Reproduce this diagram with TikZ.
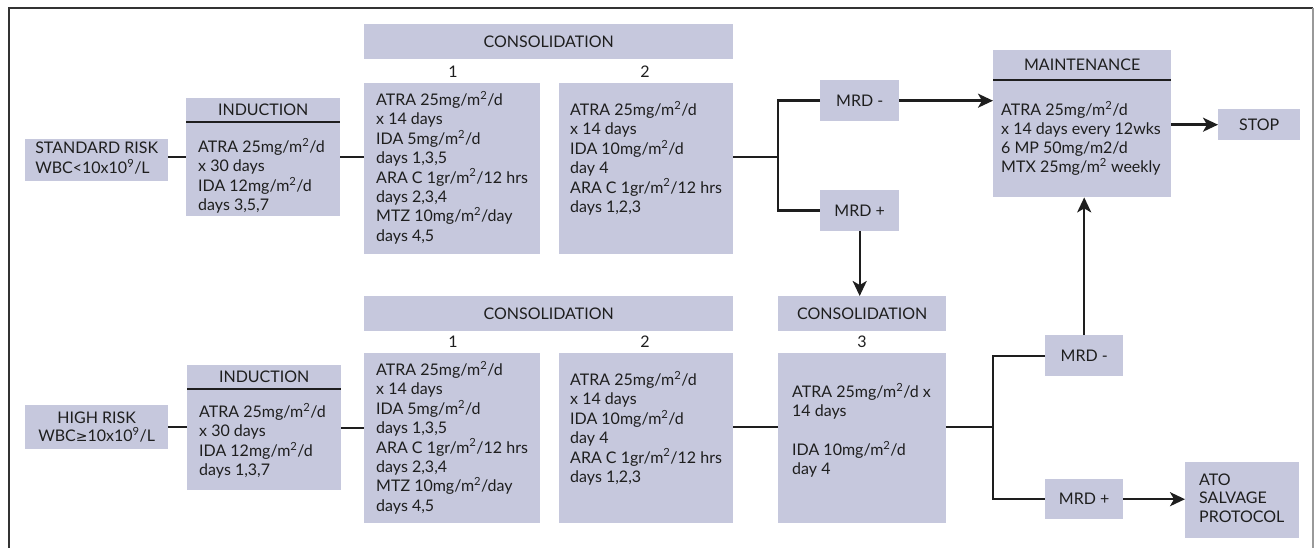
\documentclass[tikz,border=0pt]{standalone}
\usepackage{fontspec}
\setmainfont{Lato}
\newfontfamily\symfont{DejaVu Sans}
\usetikzlibrary{arrows.meta,calc}
\definecolor{boxc}{HTML}{C6C8DD}
\definecolor{ink}{HTML}{1E1E1E}
\newcommand\topr{\rule{0pt}{14pt}}
\newcommand\sq{\textsuperscript{2}}
\tikzset{
  box/.style={fill=boxc, draw=none, inner sep=0pt, anchor=north west, text=ink,
              font=\fontsize{16}{18.5}\selectfont, align=center},
  txt/.style={inner sep=0pt, anchor=north west, align=left, text=ink},
  body/.style={txt, font=\fontsize{16}{19.4}\selectfont},
  hd/.style={inner sep=0pt, text=ink, font=\fontsize{16}{18}\selectfont},
  num/.style={inner sep=0pt, text=ink, font=\fontsize{16}{18}\selectfont},
  conn/.style={draw=ink, line width=2.4pt},
  arr/.style={conn, -{Stealth[length=15pt,width=14pt,inset=4pt]}},
  sepline/.style={draw=ink, line width=2.6pt},
}
\begin{document}
\begin{tikzpicture}[x=1pt,y=-1pt]
\useasboundingbox (0,0) rectangle (1315,548);
% frame
\draw[draw=black!80, line width=2.4pt] (9,548) -- (9,8) -- (1313,8);
\draw[draw=black!40, line width=1.2pt] (1313,8) -- (1313,548);

% ---------- top row ----------
\node[box, minimum width=143pt, minimum height=42pt] (std) at (25,139)
  {\begin{tabular}{@{}l@{}}STANDARD RISK\\ WBC<10x10\textsuperscript{9}/L\end{tabular}};
\node[box, minimum width=154pt, minimum height=118pt] (ind1) at (186,98) {};
\node[hd] (ind1h) at ([yshift=-12pt]ind1.north) {INDUCTION};
\draw[sepline] ([yshift=-24pt]ind1.north west) -- ([yshift=-24pt]ind1.north east);
\node[body] (ind1t) at (198,138)
  {\topr ATRA 25mg/m\sq/d\\ x 30 days\\ IDA 12mg/m\sq/d\\ days 3,5,7};

\node[box, minimum width=369pt, minimum height=35pt] (ch1) at (364,24) {CONSOLIDATION};
\node[num] (n1a) at (453,72) {1};
\node[num] (n2a) at (645,72) {2};
\node[box, minimum width=176pt, minimum height=171pt] (c1a) at (364,83) {};
\node[body] (c1at) at (376,91)
  {\topr ATRA 25mg/m\sq/d\\ x 14 days\\ IDA 5mg/m\sq/d\\ days 1,3,5\\ ARA C 1gr/m\sq/12 hrs\\ days 2,3,4\\ MTZ 10mg/m\sq/day\\ days 4,5};
\node[box, minimum width=174pt, minimum height=171pt] (c2a) at (559,83) {};
\node[body] (c2at) at (570,101)
  {\topr ATRA 25mg/m\sq/d\\ x 14 days\\ IDA 10mg/m\sq/d\\ day 4\\ ARA C 1gr/m\sq/12 hrs\\ days 1,2,3};

\coordinate (j1) at (778,157);
\node[box, minimum width=79pt, minimum height=41pt] (mrdn1) at (820,80) {MRD -};
\node[box, minimum width=79pt, minimum height=41pt] (mrdp1) at (820,190) {MRD +};

\node[box, minimum width=178pt, minimum height=147pt] (maint) at (993,50) {};
\node[hd] (mainth) at ([yshift=-15pt]maint.north) {MAINTENANCE};
\draw[sepline] ([yshift=-30pt]maint.north west) -- ([yshift=-30pt]maint.north east);
\node[body, font=\fontsize{16}{19}\selectfont] (maintt) at (1001,101)
  {\topr ATRA 25mg/m\sq/d\\ x 14 days every 12wks\\ 6 MP 50mg/m2/d\\ MTX 25mg/m\sq{} weekly};
\node[box, minimum width=82pt, minimum height=31pt] (stop) at (1218,109) {STOP};

% ---------- bottom row ----------
\node[box, minimum width=143pt, minimum height=44pt] (high) at (25,405)
  {HIGH RISK\\ WBC{\symfont\fontsize{14}{14}\selectfont ≥}10x10\textsuperscript{9}/L};
\node[box, minimum width=154pt, minimum height=125pt] (ind2) at (187,365) {};
\node[hd] (ind2h) at ([yshift=-12pt]ind2.north) {INDUCTION};
\draw[sepline] ([yshift=-24pt]ind2.north west) -- ([yshift=-24pt]ind2.north east);
\node[body] (ind2t) at (199,403)
  {\topr ATRA 25mg/m\sq/d\\ x 30 days\\ IDA 12mg/m\sq/d\\ days 1,3,7};

\node[box, minimum width=369pt, minimum height=35pt] (ch2) at (364,296) {CONSOLIDATION};
\node[num] (n1b) at (453,342) {1};
\node[num] (n2b) at (645,342) {2};
\node[box, minimum width=176pt, minimum height=170pt] (c1b) at (364,353) {};
\node[body] (c1bt) at (376,361)
  {\topr ATRA 25mg/m\sq/d\\ x 14 days\\ IDA 5mg/m\sq/d\\ days 1,3,5\\ ARA C 1gr/m\sq/12 hrs\\ days 2,3,4\\ MTZ 10mg/m\sq/day\\ days 4,5};
\node[box, minimum width=174pt, minimum height=170pt] (c2b) at (559,353) {};
\node[body] (c2bt) at (570,371)
  {\topr ATRA 25mg/m\sq/d\\ x 14 days\\ IDA 10mg/m\sq/d\\ day 4\\ ARA C 1gr/m\sq/12 hrs\\ days 1,2,3};

\node[box, minimum width=168pt, minimum height=35pt] (ch3) at (778,296) {CONSOLIDATION};
\node[num] (n3) at (862,342) {3};
\node[box, minimum width=168pt, minimum height=170pt] (c3) at (778,353) {};
\node[body, font=\fontsize{16}{19.3}\selectfont] (c3t) at (792,383)
  {\topr ATRA 25mg/m\sq/d x\\ 14 days\\ \mbox{}\\ IDA 10mg/m\sq/d\\ day 4};

\coordinate (j2) at (993,427);
\node[box, minimum width=78pt, minimum height=41pt] (mrdn2) at (1045,335) {MRD -};
\node[box, minimum width=78pt, minimum height=40pt] (mrdp2) at (1045,479) {MRD +};
\node[box, minimum width=114pt, minimum height=76pt] (ato) at (1185,462) {};
\node[txt, font=\fontsize{16}{18.5}\selectfont] (atot) at (1199,471)
  {\topr ATO\\ SALVAGE\\ PROTOCOL};

% ---------- connectors ----------
\draw[conn] (ind1.west -| std.east) -- (ind1.west);
\draw[conn] (ind1.east) -- (ind1.east -| c1a.west);
\draw[conn] (c2a.east |- j1) -- (j1);
\draw[conn] (mrdn1.west) -| (j1) |- (mrdp1.west);
\draw[arr] (mrdn1.east) -- (mrdn1.east -| maint.west);
\draw[arr] (maint.east |- stop.west) -- (stop.west);
\draw[arr] (mrdp1.south) -- (mrdp1.south |- ch3.north);

\draw[conn] (high.east) -- (high.east -| ind2.west);
\draw[conn] (ind2.east) -- (ind2.east -| c1b.west);
\draw[conn] (c2b.east |- j2) -- (c3.west |- j2);
\draw[conn] (c3.east |- j2) -- (j2);
\draw[conn] (mrdn2.west) -| (j2) |- (mrdp2.west);
\draw[arr] (mrdn2.north) -- (mrdn2.north |- maint.south);
\draw[arr] (mrdp2.east) -- (mrdp2.east -| ato.west);
\end{tikzpicture}
\end{document}
